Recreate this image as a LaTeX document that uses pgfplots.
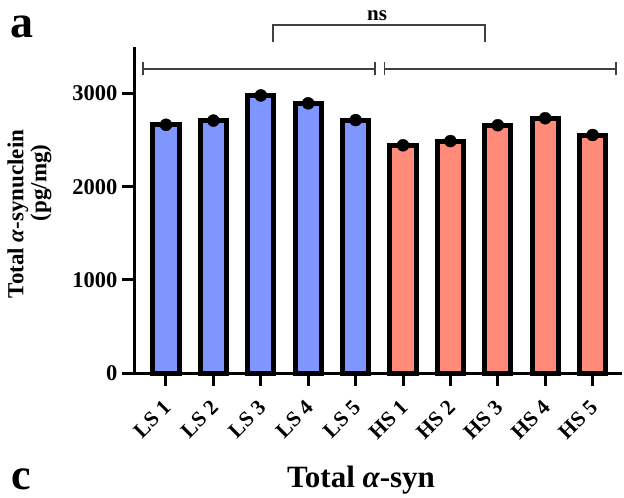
\documentclass[border=0pt]{standalone}
\usepackage{fontspec}
\setmainfont{Liberation Serif}
\usepackage{pgfplots}
\pgfplotsset{compat=1.18}
\definecolor{lsblue}{HTML}{8096FF}
\definecolor{hssalmon}{HTML}{FF8B78}
\definecolor{brk}{HTML}{404040}
\begin{document}
\begin{tikzpicture}
\begin{axis}[
  scale only axis,
  width=487pt, height=326pt,
  xmin=-0.654, xmax=9.62,
  ymin=0, ymax=3500,
  clip=false,
  axis x line=bottom, axis y line=left,
  axis line style={-, line width=3pt, black},
  tick align=outside,
  major tick length=13pt,
  tick style={line width=3pt, black},
  xtick={0,...,9},
  xticklabels={LS 1,LS 2,LS 3,LS 4,LS 5,HS 1,HS 2,HS 3,HS 4,HS 5},
  ytick={0,1000,2000,3000},
  /pgf/number format/assume math mode=true,
  /pgf/number format/1000 sep={},
  yticklabel style={font=\fontsize{22.5}{25}\selectfont\bfseries, xshift=-1pt},
  xticklabel style={font=\fontsize{21.5}{24}\selectfont\bfseries, xshift=-4pt, yshift=-8pt, rotate=45, anchor=north east},
]
\addplot[ybar, bar width=0.55, bar shift=0pt, fill=lsblue, draw=black, line width=5pt]
  coordinates {(0,2665) (1,2710) (2,2980) (3,2895) (4,2715)};
\addplot[ybar, bar width=0.55, bar shift=0pt, fill=hssalmon, draw=black, line width=5pt]
  coordinates {(5,2445) (6,2490) (7,2660) (8,2735) (9,2555)};
\addplot[only marks, mark=*, mark size=6pt, black]
  coordinates {(0,2665) (1,2710) (2,2980) (3,2895) (4,2715)
               (5,2445) (6,2490) (7,2660) (8,2735) (9,2555)};
% significance brackets
\draw[brk, line width=1.5pt] (axis cs:-0.485,3265) -- (axis cs:4.41,3265);
\draw[brk, line width=1.5pt] (axis cs:-0.485,3195) -- (axis cs:-0.485,3335);
\draw[brk, line width=1.5pt] (axis cs:4.41,3195) -- (axis cs:4.41,3335);
\draw[brk, line width=1.5pt] (axis cs:4.61,3265) -- (axis cs:9.49,3265);
\draw[brk, line width=1.5pt] (axis cs:4.61,3195) -- (axis cs:4.61,3335);
\draw[brk, line width=1.5pt] (axis cs:9.49,3195) -- (axis cs:9.49,3335);
\draw[brk, line width=1.5pt] (axis cs:2.26,3555) -- (axis cs:2.26,3738) -- (axis cs:6.73,3738) -- (axis cs:6.73,3555);
\end{axis}
\coordinate (O) at (current axis.south west);
\node[rotate=90, anchor=center, font=\fontsize{23}{26}\selectfont\bfseries, inner sep=0pt] at ([shift={(-117pt,159pt)}]O) {Total {\itshape α}-synuclein};
\node[rotate=90, anchor=center, font=\fontsize{23}{26}\selectfont\bfseries, inner sep=0pt] at ([shift={(-94pt,190pt)}]O) {(pg/mg)};
\node[anchor=base, font=\fontsize{21}{24}\selectfont\bfseries, inner sep=0pt] at ([shift={(242pt,352pt)}]O) {ns};
\node[anchor=base west, font=\fontsize{46}{50}\selectfont\bfseries, inner sep=0pt] at ([shift={(-125pt,335pt)}]O) {a};
\node[anchor=base west, font=\fontsize{44}{48}\selectfont\bfseries, inner sep=0pt] at ([shift={(-124pt,-116pt)}]O) {c};
\node[anchor=base, font=\fontsize{31}{34}\selectfont\bfseries, inner sep=0pt] at ([shift={(226pt,-114pt)}]O) {Total {\itshape α}-syn};
\pgfresetboundingbox
\path[use as bounding box] ([shift={(-135pt,-125pt)}]O) rectangle ([shift={(489pt,373pt)}]O);
\end{tikzpicture}
\end{document}
